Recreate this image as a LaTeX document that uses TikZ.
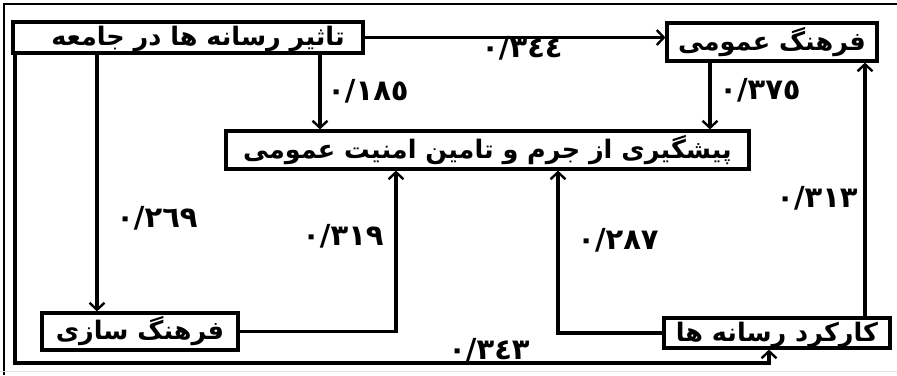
\documentclass[tikz,border=0pt]{standalone}
\usepackage{fontspec}
\newfontfamily\arabicfont[Script=Arabic]{DejaVu Sans}
\TeXXeTstate=1
\usetikzlibrary{arrows.meta,calc}
\begin{document}
\begin{tikzpicture}[x=1pt,y=-1pt,line width=3.2pt,
  box/.style={draw,rectangle,inner sep=0pt,text height=19pt,text depth=3pt,font=\arabicfont\bfseries\fontsize{25.5}{28}\selectfont},
  link/.style={-{Straight Barb[length=7pt,width=15pt,line width=2.4pt]}},
  coef/.style={font=\arabicfont\bfseries\fontsize{29}{32}\selectfont,inner sep=0pt}]
\useasboundingbox (0,0) rectangle (897,375);
% frame
\draw[line width=2.8pt] (4,375) -- (4,4) -- (897,4);
\draw[line width=1pt,black!12] (0,371) -- (897,371);
% boxes
\node[box,minimum width=350pt,minimum height=31pt] (A) at (188,37.5) {\hspace*{20pt}\beginR تاثیر رسانه ها در جامعه\endR};
\node[box,minimum width=210pt,minimum height=38pt] (B) at (772,42) {\beginR فرهنگ عمومی\endR};
\node[box,minimum width=523pt,minimum height=38pt] (C) at (487.5,150) {\beginR پیشگیری از جرم و تامین امنیت عمومی\endR};
\node[box,minimum width=196pt,minimum height=37pt] (D) at (140,331.5) {\beginR فرهنگ سازی\endR};
\node[box,minimum width=226pt,minimum height=30pt] (E) at (777,333) {\beginR کارکرد رسانه ها\endR};
% helper coordinates
\coordinate (xAC) at (320,0);
\coordinate (xAD) at (97,0);
\coordinate (xDC) at (396,0);
\coordinate (xBC) at (710,0);
\coordinate (xEC) at (558,0);
\coordinate (xEB) at (865,0);
\coordinate (c1) at (15,363);
\coordinate (c2) at (769,363);
% connectors
\draw[link] (A.east) -- (A.east -| B.west);
\draw[link] (A.south -| xAC) -- (C.north -| xAC);
\draw[link] (A.south -| xAD) -- (D.north -| xAD);
\draw[link] (D.east) -| (C.south -| xDC);
\draw[link] (B.south -| xBC) -- (C.north -| xBC);
\draw[link] (E.west) -| (C.south -| xEC);
\draw[link] (E.north -| xEB) -- (B.south -| xEB);
\draw[link] (A.south -| c1) -- (c1) -- (c2) -- (E.south -| c2);
% coefficients
\node[coef] (l1) at (522,48) {٠/٣٤٤};
\node[coef] (l2) at (368,91) {٠/١٨٥};
\node[coef] (l3) at (760,90) {٠/٣٧٥};
\node[coef] (l4) at (157,218) {٠/٢٦٩};
\node[coef] (l5) at (343,236) {٠/٣١٩};
\node[coef] (l6) at (618,240) {٠/٢٨٧};
\node[coef] (l7) at (817,198) {٠/٣١٣};
\node[coef] (l8) at (489,350) {٠/٣٤٣};
\end{tikzpicture}
\end{document}
